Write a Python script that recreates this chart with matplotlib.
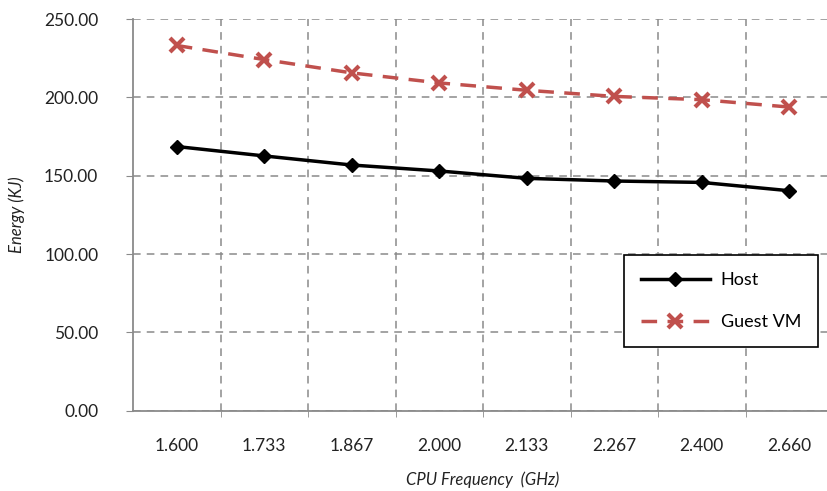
import matplotlib
matplotlib.use("Agg")
import matplotlib.pyplot as plt

categories = ["1.600", "1.733", "1.867", "2.000", "2.133", "2.267", "2.400", "2.660"]
host = [168.6, 162.6, 156.8, 153.0, 148.3, 146.6, 145.7, 140.4]
guest = [233.1, 224.1, 215.6, 209.2, 204.5, 200.6, 198.5, 193.8]
yticks = [0, 50, 100, 150, 200, 250]

plt.rcParams['font.family'] = ['Lato', 'DejaVu Sans']

W, H = 827, 491
fig = plt.figure(figsize=(W / 100, H / 100), dpi=100)
left, right, top, bottom = 133, 833, 19, 410.7
ax = fig.add_axes([left / W, 1 - bottom / H, (right - left) / W, (bottom - top) / H])

x = list(range(len(categories)))
ax.plot(x, host, color='black', lw=2.5, marker='D', ms=7, label='Host', zorder=3)
ax.plot(x, guest, color='#C0504D', lw=2.5, ls=(0, (4.5, 3)), marker='x', ms=10, mew=3,
        label='Guest VM', zorder=3)

ax.set_xlim(-0.5, len(categories) - 0.5)
ax.set_ylim(0, 250)
ax.set_yticks(yticks)
ax.set_yticklabels([f"{v:.2f}" for v in yticks])
ax.set_xticks(x)
ax.set_xticklabels(categories)
ax.set_xticks([i + 0.5 for i in x[:-1]], minor=True)

ax.yaxis.grid(True, color='#8a8a8a', ls=(0, (5, 4)), lw=1.1)
ax.xaxis.grid(True, which='minor', color='#8a8a8a', ls=(0, (5, 4)), lw=1.1)
ax.set_axisbelow(True)

for s in ['top', 'right']:
    ax.spines[s].set_visible(False)
for s in ['left', 'bottom']:
    ax.spines[s].set_color('#8a8a8a')
    ax.spines[s].set_linewidth(1.3)

ax.tick_params(axis='y', which='major', length=5, color='#8a8a8a', pad=20, labelsize=12.5, labelcolor='#222222')
ax.tick_params(axis='x', which='major', length=0, pad=20, labelsize=12.5, labelcolor='#222222')
ax.tick_params(axis='x', which='minor', length=4, color='#8a8a8a')

ax.set_ylabel('Energy (KJ)', fontsize=12, style='italic', color='#222222', labelpad=14)
ax.set_xlabel('CPU Frequency  (GHz)', fontsize=12, style='italic', color='#222222', labelpad=12)

leg = ax.legend(loc='upper left', bbox_to_anchor=((624 - left) / (right - left), 1 - (255 - top) / (bottom - top)),
                fontsize=13, frameon=True, fancybox=False, edgecolor='black',
                handlelength=3.8, handletextpad=0.6, borderpad=0.95, labelspacing=1.45, borderaxespad=0)
leg.get_frame().set_linewidth(1.2)
leg.get_frame().set_facecolor('white')
leg.get_frame().set_alpha(1)

fig.savefig('out.png', dpi=100)
